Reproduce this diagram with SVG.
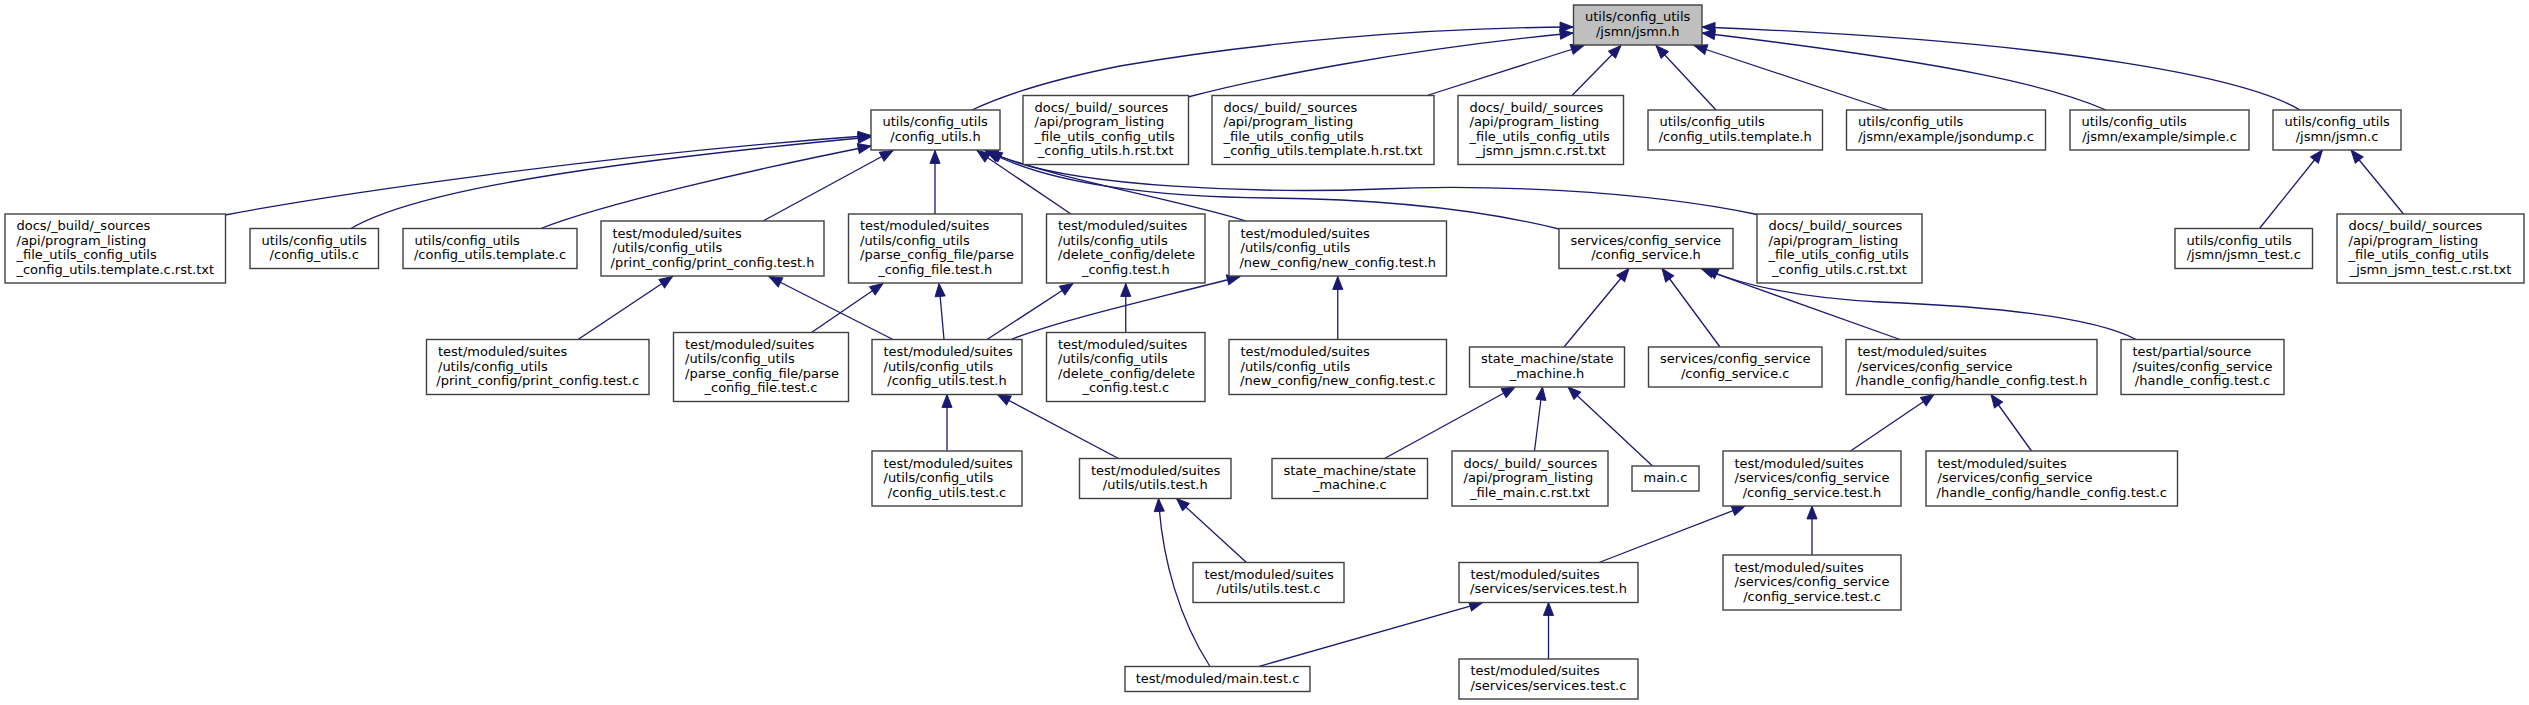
<svg xmlns="http://www.w3.org/2000/svg" width="2529" height="705" viewBox="0 0 2529 705">
<style>
.n rect{fill:#fff;stroke:#404040;stroke-width:1.4}
.cur rect{fill:#bfbfbf}
text{font-family:"DejaVu Sans","Liberation Sans",sans-serif;font-size:13px;fill:#000}
.m{text-anchor:middle}
#edges path{fill:none;stroke:#191970;stroke-width:1.3;marker-end:url(#ah)}
</style>
<defs>
<marker id="ah" markerUnits="userSpaceOnUse" markerWidth="16" markerHeight="12" refX="14" refY="5.5" orient="auto" viewBox="-1 -1 16 13">
<path d="M0,0 L14,5.5 L0,11 Z" fill="#191970" stroke="#191970" stroke-width="1"/>
</marker>
</defs>
<rect width="2529" height="705" fill="#fff"/>
<g id="edges">
<path d="M972,110 C1010,92 1060,78 1120,66 C1260,42 1420,28 1573,27"/>
<path d="M1188,97 C1260,78 1400,50 1573,33"/>
<path d="M1427,95.5 L1584,45.5"/>
<path d="M1572,95.5 L1621,45.5"/>
<path d="M1716,110 L1656,45.5"/>
<path d="M1888,110 L1694,45.5"/>
<path d="M2106,110 C2050,86 1960,64 1702,33"/>
<path d="M2300,110 C2250,80 2080,42 1702,27"/>
<path d="M225,215 C330,195 600,155 871,135.5"/>
<path d="M351,228.5 C400,200 520,170 871,137"/>
<path d="M541,228.5 C600,205 750,170 871,146"/>
<path d="M763,221 L893,150.5"/>
<path d="M935,214 L935,150.5"/>
<path d="M1071,214 L977,150.5"/>
<path d="M1246,221 C1180,200 1050,178 985,150.5"/>
<path d="M1559,229 C1470,207 1370,199 1270,198 C1160,197 1050,185 987,151"/>
<path d="M1757,214.5 C1640,190 1480,184 1380,189 C1280,193 1060,190 989,151"/>
<path d="M578,339.5 L672.5,276.5"/>
<path d="M893,339.5 L769,276.5"/>
<path d="M811.5,332.5 L883,283.5"/>
<path d="M944,339.5 L939,283.5"/>
<path d="M987,339.5 L1073,283.5"/>
<path d="M1125.75,332.5 L1125.75,283.5"/>
<path d="M1011,339.5 C1060,320 1150,300 1240,276.5"/>
<path d="M1337.75,339.5 L1337.75,276.5"/>
<path d="M1564,347 L1629,268.5"/>
<path d="M1720,347 L1662,268.5"/>
<path d="M1900,339.5 L1701,268.5"/>
<path d="M2136,339.5 C2090,315 1980,306 1880,302 C1800,298 1740,285 1705,268.5"/>
<path d="M2259.5,228.5 L2322.5,150"/>
<path d="M2403.5,214 L2351,150"/>
<path d="M947,451 L947,394.5"/>
<path d="M1118.5,458.5 L997.5,394.5"/>
<path d="M1384.5,458.5 L1515,387"/>
<path d="M1534.5,451 L1542.5,387"/>
<path d="M1652.5,466 L1568,387"/>
<path d="M1850.5,451 L1934,394.5"/>
<path d="M2031.5,451 L1991,394.5"/>
<path d="M1246.5,562.5 L1176.5,498.5"/>
<path d="M1210,666.5 C1180,620 1162,560 1158.5,498.5"/>
<path d="M1599,562.5 L1745,506"/>
<path d="M1812,555 L1812,506"/>
<path d="M1258.5,666.5 L1482.5,602.5"/>
<path d="M1548.5,659 L1548.5,602.5"/>
</g>
<g id="n1" class="n cur"><rect x="1573.5" y="5" width="128.5" height="40"/><text x="1585" y="21.25">utils/config_utils</text><text class="m" x="1637.75" y="35.75">/jsmn/jsmn.h</text></g>
<g id="n2" class="n"><rect x="871" y="110" width="129" height="40"/><text x="882.5" y="126.25">utils/config_utils</text><text class="m" x="935.5" y="140.75">/config_utils.h</text></g>
<g id="n3" class="n"><rect x="1023" y="95.5" width="165.5" height="69"/><text x="1034.5" y="111.75">docs/_build/_sources</text><text x="1034.5" y="126.25">/api/program_listing</text><text x="1034.5" y="140.75">_file_utils_config_utils</text><text class="m" x="1105.75" y="155.25">_config_utils.h.rst.txt</text></g>
<g id="n4" class="n"><rect x="1212" y="95.5" width="222" height="69"/><text x="1223.5" y="111.75">docs/_build/_sources</text><text x="1223.5" y="126.25">/api/program_listing</text><text x="1223.5" y="140.75">_file_utils_config_utils</text><text class="m" x="1323" y="155.25">_config_utils.template.h.rst.txt</text></g>
<g id="n5" class="n"><rect x="1458" y="95.5" width="165.5" height="69"/><text x="1469.5" y="111.75">docs/_build/_sources</text><text x="1469.5" y="126.25">/api/program_listing</text><text x="1469.5" y="140.75">_file_utils_config_utils</text><text class="m" x="1540.75" y="155.25">_jsmn_jsmn.c.rst.txt</text></g>
<g id="n6" class="n"><rect x="1648" y="110" width="174.5" height="40"/><text x="1659.5" y="126.25">utils/config_utils</text><text class="m" x="1735.25" y="140.75">/config_utils.template.h</text></g>
<g id="n7" class="n"><rect x="1846.5" y="110" width="199" height="40"/><text x="1858" y="126.25">utils/config_utils</text><text class="m" x="1946" y="140.75">/jsmn/example/jsondump.c</text></g>
<g id="n8" class="n"><rect x="2070" y="110" width="179" height="40"/><text x="2081.5" y="126.25">utils/config_utils</text><text class="m" x="2159.5" y="140.75">/jsmn/example/simple.c</text></g>
<g id="n9" class="n"><rect x="2273" y="110" width="128" height="40"/><text x="2284.5" y="126.25">utils/config_utils</text><text class="m" x="2337" y="140.75">/jsmn/jsmn.c</text></g>
<g id="n10" class="n"><rect x="5" y="214" width="220.5" height="69"/><text x="16.5" y="230.25">docs/_build/_sources</text><text x="16.5" y="244.75">/api/program_listing</text><text x="16.5" y="259.25">_file_utils_config_utils</text><text class="m" x="115.25" y="273.75">_config_utils.template.c.rst.txt</text></g>
<g id="n11" class="n"><rect x="250" y="228.5" width="128.5" height="40"/><text x="261.5" y="244.75">utils/config_utils</text><text class="m" x="314.25" y="259.25">/config_utils.c</text></g>
<g id="n12" class="n"><rect x="403" y="228.5" width="174" height="40"/><text x="414.5" y="244.75">utils/config_utils</text><text class="m" x="490" y="259.25">/config_utils.template.c</text></g>
<g id="n13" class="n"><rect x="601" y="221" width="223" height="55"/><text x="612.5" y="237.5">test/moduled/suites</text><text x="612.5" y="252">/utils/config_utils</text><text class="m" x="712.5" y="266.5">/print_config/print_config.test.h</text></g>
<g id="n14" class="n"><rect x="848.5" y="214" width="173.5" height="69"/><text x="860" y="230.25">test/moduled/suites</text><text x="860" y="244.75">/utils/config_utils</text><text x="860" y="259.25">/parse_config_file/parse</text><text class="m" x="935.25" y="273.75">_config_file.test.h</text></g>
<g id="n15" class="n"><rect x="1046.5" y="214" width="158.5" height="69"/><text x="1058" y="230.25">test/moduled/suites</text><text x="1058" y="244.75">/utils/config_utils</text><text x="1058" y="259.25">/delete_config/delete</text><text class="m" x="1125.75" y="273.75">_config.test.h</text></g>
<g id="n16" class="n"><rect x="1229" y="221" width="217.5" height="55"/><text x="1240.5" y="237.5">test/moduled/suites</text><text x="1240.5" y="252">/utils/config_utils</text><text class="m" x="1337.75" y="266.5">/new_config/new_config.test.h</text></g>
<g id="n17" class="n"><rect x="1559" y="228.5" width="174" height="40"/><text x="1570.5" y="244.75">services/config_service</text><text class="m" x="1646" y="259.25">/config_service.h</text></g>
<g id="n18" class="n"><rect x="1757" y="214" width="165" height="69"/><text x="1768.5" y="230.25">docs/_build/_sources</text><text x="1768.5" y="244.75">/api/program_listing</text><text x="1768.5" y="259.25">_file_utils_config_utils</text><text class="m" x="1839.5" y="273.75">_config_utils.c.rst.txt</text></g>
<g id="n19" class="n"><rect x="2175" y="228.5" width="137.5" height="40"/><text x="2186.5" y="244.75">utils/config_utils</text><text class="m" x="2243.75" y="259.25">/jsmn/jsmn_test.c</text></g>
<g id="n20" class="n"><rect x="2337" y="214" width="187" height="69"/><text x="2348.5" y="230.25">docs/_build/_sources</text><text x="2348.5" y="244.75">/api/program_listing</text><text x="2348.5" y="259.25">_file_utils_config_utils</text><text class="m" x="2430.5" y="273.75">_jsmn_jsmn_test.c.rst.txt</text></g>
<g id="n21" class="n"><rect x="426.5" y="339.5" width="222.5" height="55"/><text x="438" y="356">test/moduled/suites</text><text x="438" y="370.5">/utils/config_utils</text><text class="m" x="537.75" y="385">/print_config/print_config.test.c</text></g>
<g id="n22" class="n"><rect x="673.5" y="332.5" width="175" height="69"/><text x="685" y="348.75">test/moduled/suites</text><text x="685" y="363.25">/utils/config_utils</text><text x="685" y="377.75">/parse_config_file/parse</text><text class="m" x="761" y="392.25">_config_file.test.c</text></g>
<g id="n23" class="n"><rect x="872" y="339.5" width="150" height="55"/><text x="883.5" y="356">test/moduled/suites</text><text x="883.5" y="370.5">/utils/config_utils</text><text class="m" x="947" y="385">/config_utils.test.h</text></g>
<g id="n24" class="n"><rect x="1046.5" y="332.5" width="158.5" height="69"/><text x="1058" y="348.75">test/moduled/suites</text><text x="1058" y="363.25">/utils/config_utils</text><text x="1058" y="377.75">/delete_config/delete</text><text class="m" x="1125.75" y="392.25">_config.test.c</text></g>
<g id="n25" class="n"><rect x="1229" y="339.5" width="217.5" height="55"/><text x="1240.5" y="356">test/moduled/suites</text><text x="1240.5" y="370.5">/utils/config_utils</text><text class="m" x="1337.75" y="385">/new_config/new_config.test.c</text></g>
<g id="n26" class="n"><rect x="1469.5" y="347" width="155" height="40"/><text x="1481" y="363.25">state_machine/state</text><text class="m" x="1547" y="377.75">_machine.h</text></g>
<g id="n27" class="n"><rect x="1648.5" y="347" width="173.5" height="40"/><text x="1660" y="363.25">services/config_service</text><text class="m" x="1735.25" y="377.75">/config_service.c</text></g>
<g id="n28" class="n"><rect x="1846" y="339.5" width="251" height="55"/><text x="1857.5" y="356">test/moduled/suites</text><text x="1857.5" y="370.5">/services/config_service</text><text class="m" x="1971.5" y="385">/handle_config/handle_config.test.h</text></g>
<g id="n29" class="n"><rect x="2121" y="339.5" width="163" height="55"/><text x="2132.5" y="356">test/partial/source</text><text x="2132.5" y="370.5">/suites/config_service</text><text class="m" x="2202.5" y="385">/handle_config.test.c</text></g>
<g id="n30" class="n"><rect x="872" y="451" width="150" height="55"/><text x="883.5" y="467.5">test/moduled/suites</text><text x="883.5" y="482">/utils/config_utils</text><text class="m" x="947" y="496.5">/config_utils.test.c</text></g>
<g id="n31" class="n"><rect x="1079.5" y="458.5" width="151.5" height="40"/><text x="1091" y="474.75">test/moduled/suites</text><text class="m" x="1155.25" y="489.25">/utils/utils.test.h</text></g>
<g id="n32" class="n"><rect x="1272" y="458.5" width="155.5" height="40"/><text x="1283.5" y="474.75">state_machine/state</text><text class="m" x="1349.75" y="489.25">_machine.c</text></g>
<g id="n33" class="n"><rect x="1452" y="451" width="156" height="55"/><text x="1463.5" y="467.5">docs/_build/_sources</text><text x="1463.5" y="482">/api/program_listing</text><text class="m" x="1530" y="496.5">_file_main.c.rst.txt</text></g>
<g id="n34" class="n"><rect x="1632" y="466" width="67" height="25"/><text class="m" x="1665.5" y="482">main.c</text></g>
<g id="n35" class="n"><rect x="1723" y="451" width="178" height="55"/><text x="1734.5" y="467.5">test/moduled/suites</text><text x="1734.5" y="482">/services/config_service</text><text class="m" x="1812" y="496.5">/config_service.test.h</text></g>
<g id="n36" class="n"><rect x="1926" y="451" width="251.5" height="55"/><text x="1937.5" y="467.5">test/moduled/suites</text><text x="1937.5" y="482">/services/config_service</text><text class="m" x="2051.75" y="496.5">/handle_config/handle_config.test.c</text></g>
<g id="n37" class="n"><rect x="1193" y="562.5" width="151" height="40"/><text x="1204.5" y="578.75">test/moduled/suites</text><text class="m" x="1268.5" y="593.25">/utils/utils.test.c</text></g>
<g id="n38" class="n"><rect x="1459" y="562.5" width="179" height="40"/><text x="1470.5" y="578.75">test/moduled/suites</text><text class="m" x="1548.5" y="593.25">/services/services.test.h</text></g>
<g id="n39" class="n"><rect x="1723" y="555" width="178" height="55"/><text x="1734.5" y="571.5">test/moduled/suites</text><text x="1734.5" y="586">/services/config_service</text><text class="m" x="1812" y="600.5">/config_service.test.c</text></g>
<g id="n40" class="n"><rect x="1125" y="666.5" width="185" height="25"/><text class="m" x="1217.5" y="682.5">test/moduled/main.test.c</text></g>
<g id="n41" class="n"><rect x="1459" y="659" width="179" height="40"/><text x="1470.5" y="675.25">test/moduled/suites</text><text class="m" x="1548.5" y="689.75">/services/services.test.c</text></g>
</svg>
